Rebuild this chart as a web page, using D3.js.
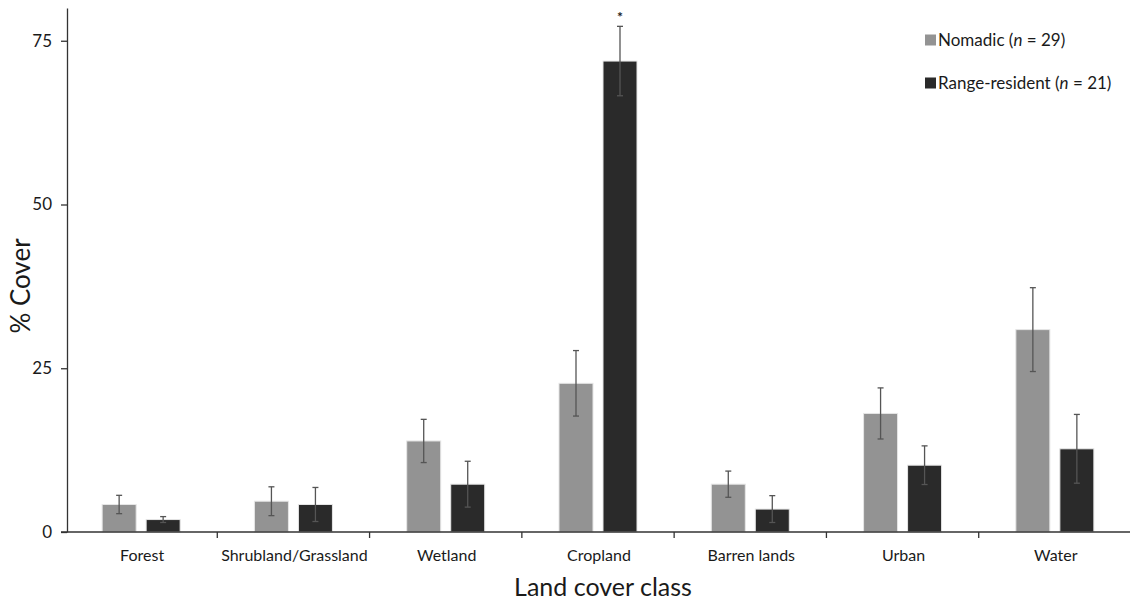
<!DOCTYPE html>
<html>
<head>
<script src="https://d3js.org/d3.v7.min.js"></script>
<style>
  body { margin: 0; background: #fff; }
  text { font-family: Lato, "Open Sans", sans-serif; fill: #1a1a1a; }
  .axis path, .axis line { stroke: #333; stroke-width: 1.3; }
</style>
</head>
<body>
<script>
const categories = ['Forest', 'Shrubland/Grassland', 'Wetland', 'Cropland', 'Barren lands', 'Urban', 'Water']
const series = ['Nomadic', 'Range-resident']
const nomadic = [4.2, 4.7, 13.9, 22.7, 7.3, 18.1, 30.9]
const nomadicErr = [1.4, 2.2, 3.3, 5.0, 2.0, 3.9, 6.4]
const resident = [1.9, 4.2, 7.3, 71.9, 3.5, 10.2, 12.7]
const residentErr = [0.45, 2.6, 3.5, 5.3, 2.05, 2.95, 5.25]
const yTicks = [0, 25, 50, 75]
const legendLabels = [['Nomadic (', 'n', ' = 29)'], ['Range-resident (', 'n', ' = 21)']]
const colours = ['#939393', '#2a2a2a']

const w = 1130, h = 602
const svg = d3.select('body').append('svg').attr('width', w).attr('height', h)

const x = d3.scaleBand().domain(categories).range([65, 1131])
const bw = x.bandwidth()
const x1 = d3.scaleBand().domain(series).range([(bw - 78) / 2, (bw + 78) / 2]).paddingInner(10 / 44)
const y = d3.scaleLinear().domain([0, 80]).range([532, 8])

const data = []
categories.forEach((c, i) => {
    data.push({cat: c, s: series[0], v: nomadic[i], e: nomadicErr[i]})
    data.push({cat: c, s: series[1], v: resident[i], e: residentErr[i]})
})

// bars
svg.append('g').selectAll('rect')
    .data(data).enter().append('rect')
    .attr('x', d => x(d.cat) + x1(d.s))
    .attr('y', d => y(d.v))
    .attr('width', x1.bandwidth())
    .attr('height', d => y(0) - y(d.v))
    .attr('fill', d => colours[series.indexOf(d.s)])
    .attr('stroke', '#e6e6e6')
    .attr('stroke-width', 1)

// error bars
const eb = svg.append('g').attr('stroke', '#555').attr('stroke-width', 1.3)
data.forEach(d => {
    const cx = x(d.cat) + x1(d.s) + x1.bandwidth() / 2
    eb.append('line').attr('x1', cx).attr('x2', cx).attr('y1', y(d.v + d.e)).attr('y2', y(d.v - d.e))
    eb.append('line').attr('x1', cx - 3).attr('x2', cx + 3).attr('y1', y(d.v + d.e)).attr('y2', y(d.v + d.e))
    eb.append('line').attr('x1', cx - 3).attr('x2', cx + 3).attr('y1', y(d.v - d.e)).attr('y2', y(d.v - d.e))
})

// significance marker
const ci = categories.indexOf('Cropland')
svg.append('text')
    .attr('x', x('Cropland') + x1(series[1]) + x1.bandwidth() / 2)
    .attr('y', y(resident[ci] + residentErr[ci]) - 4)
    .attr('text-anchor', 'middle')
    .style('font-size', '14px').style('font-weight', 'bold')
    .text('*')

// y axis
const yAxis = svg.append('g').attr('class', 'axis')
    .attr('transform', 'translate(67,0)')
    .call(d3.axisLeft(y).tickValues(yTicks).tickSize(6).tickSizeOuter(0).tickPadding(9))
yAxis.selectAll('text').style('font-size', '17px').style('font-family', 'Lato, sans-serif').attr('fill', '#1a1a1a')

// x axis
const xAxis = svg.append('g').attr('class', 'axis')
xAxis.append('line').attr('x1', 61).attr('x2', 1130).attr('y1', y(0)).attr('y2', y(0))
xAxis.selectAll('.bound')
    .data(categories.slice(1)).enter().append('line')
    .attr('x1', d => x(d)).attr('x2', d => x(d))
    .attr('y1', y(0)).attr('y2', y(0) + 6)
svg.append('g').selectAll('text')
    .data(categories).enter().append('text')
    .attr('x', d => x(d) + bw / 2 + 1)
    .attr('y', 561)
    .attr('text-anchor', 'middle')
    .style('font-size', '16px')
    .text(d => d)

// titles
svg.append('text')
    .attr('x', 603).attr('y', 596)
    .attr('text-anchor', 'middle')
    .style('font-size', '25px')
    .text('Land cover class')
svg.append('text')
    .attr('transform', 'translate(30,286) rotate(-90)')
    .attr('text-anchor', 'middle')
    .style('font-size', '26px')
    .text('% Cover')

// legend
const lg = svg.append('g').selectAll('g')
    .data(series).enter().append('g')
    .attr('transform', (d, i) => `translate(925,${40 + i * 43})`)
lg.append('rect').attr('x', 0).attr('y', -5.5).attr('width', 11).attr('height', 11)
    .attr('fill', (d, i) => colours[i])
const lt = lg.append('text').attr('x', 13).attr('y', 6).style('font-size', '17px')
lt.append('tspan').text((d, i) => legendLabels[i][0])
lt.append('tspan').style('font-style', 'italic').text((d, i) => legendLabels[i][1])
lt.append('tspan').text((d, i) => legendLabels[i][2])
</script>
</body>
</html>
